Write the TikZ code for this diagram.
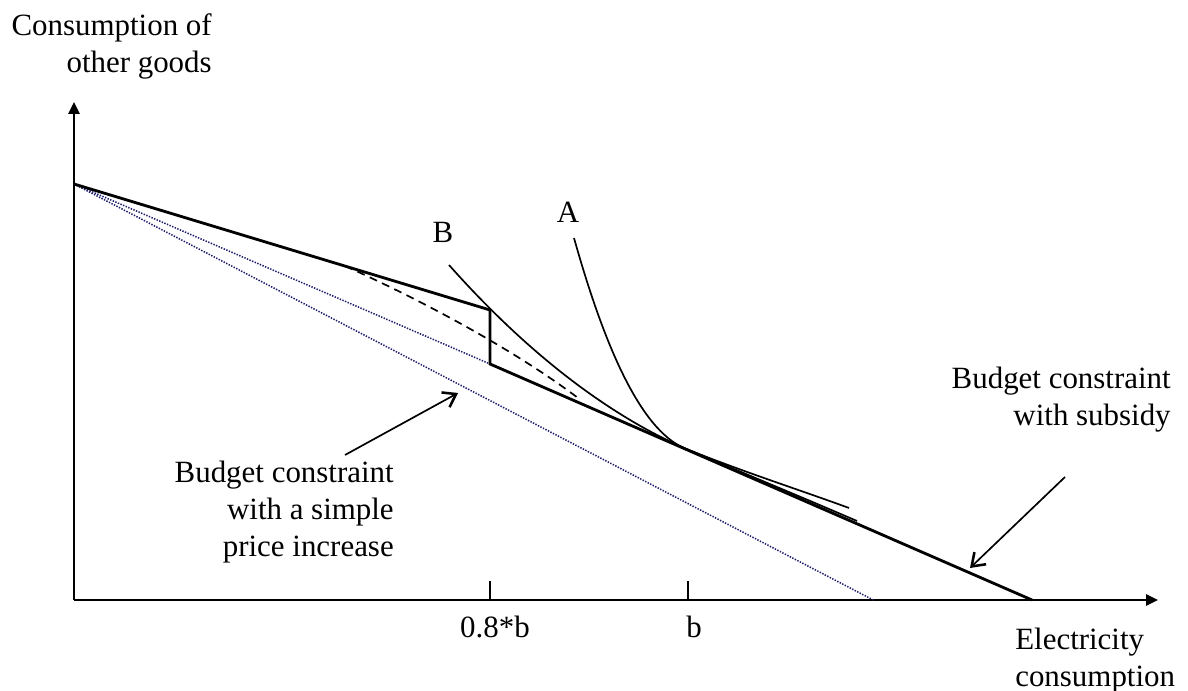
\documentclass[tikz,border=0pt]{standalone}
\usepackage{fontspec}
\setmainfont{Liberation Serif}
\usetikzlibrary{arrows.meta}
\definecolor{dotBlue}{HTML}{1F1F6E}

\begin{document}
\begin{tikzpicture}[
  font=\fontsize{22}{26.2}\selectfont,
  axis/.style={line width=1.4pt, -{Triangle[length=3mm,width=2.8mm]}},
  budget/.style={line width=2pt, line join=miter},
  icurve/.style={line width=1.2pt},
  oldline/.style={dotBlue, line width=1.1pt, dash pattern=on 1pt off 1pt},
  pointer/.style={line width=1.2pt, -{Straight Barb[length=3mm,width=4.2mm,line width=1.8pt]}}
]
  \useasboundingbox (-1.85,-2.275) rectangle (27.85,15);
  % key points
  \coordinate (O) at (0,0);
  \coordinate (ytop) at (0,12.45);
  \coordinate (xend) at (27.1,0);
  \coordinate (I) at (0,10.4);
  \coordinate (K) at (10.4,7.25);
  \coordinate (L) at (10.4,5.9);
  \coordinate (S) at (23.95,0);
  \coordinate (P) at (19.98,0);
  \coordinate (T) at (15.25,3.8);
  % axes and ticks
  \draw[axis] (O) -- (ytop);
  \draw[axis] (O) -- (xend);
  \draw[line width=1.2pt] (10.4,0) -- (10.4,0.48);
  \draw[line width=1.2pt] (15.35,0) -- (15.35,0.48);
  % budget lines without subsidy
  \draw[oldline] (I) -- (L);
  \draw[oldline] (I) -- (P);
  % budget line with subsidy
  \draw[budget] (I) -- (K) -- (L) -- (S);
  \draw[icurve, dash pattern=on 0.2cm off 0.14cm] (6.775,8.35) .. controls (8.9,7.4) and (11.15,6.15) .. (12.6,5.05);
  % indifference curves
  \draw[icurve] (9.375,8.375) .. controls (11.15,6.375) and (13.15,4.73) .. (T)
    .. controls (16.65,3.21) and (18.15,2.59) .. (19.575,1.975);
  \draw[icurve] (12.5,9.05) .. controls (13.25,6.375) and (14.15,4.28) .. (T)
    .. controls (16.65,3.23) and (18.15,2.75) .. (19.375,2.3);
  \node (B) [anchor=base] at (9.225,8.925) {B};
  \node (A) [anchor=base] at (12.35,9.425) {A};
  % axis labels
  \node (ylab) [anchor=north east, align=right, inner sep=0pt] at (3.45,14.66) {Consumption of\\ other goods};
  \node (xlab) [anchor=north west, align=left, inner sep=0pt] at (23.525,-0.7) {Electricity\\ consumption};
  \node (t08b) [anchor=base] at (10.525,-0.95) {0.8*b};
  \node (tb) [anchor=base] at (15.5,-0.95) {b};
  % pointers
  \node (plab) [anchor=north east, align=right, inner sep=0pt] at (8.0,3.48) {Budget constraint\\ with a simple\\ price increase};
  \node (slab) [anchor=north east, align=right, inner sep=0pt] at (27.425,5.83) {Budget constraint\\ with subsidy};
  \coordinate (pfrom) at (6.775,3.625);
  \coordinate (pto) at (9.6,5.175);
  \coordinate (sfrom) at (24.775,3.075);
  \coordinate (sto) at (22.4,0.8);
  \draw[pointer] (pfrom) -- (pto);
  \draw[pointer] (sfrom) -- (sto);
\end{tikzpicture}
\end{document}
